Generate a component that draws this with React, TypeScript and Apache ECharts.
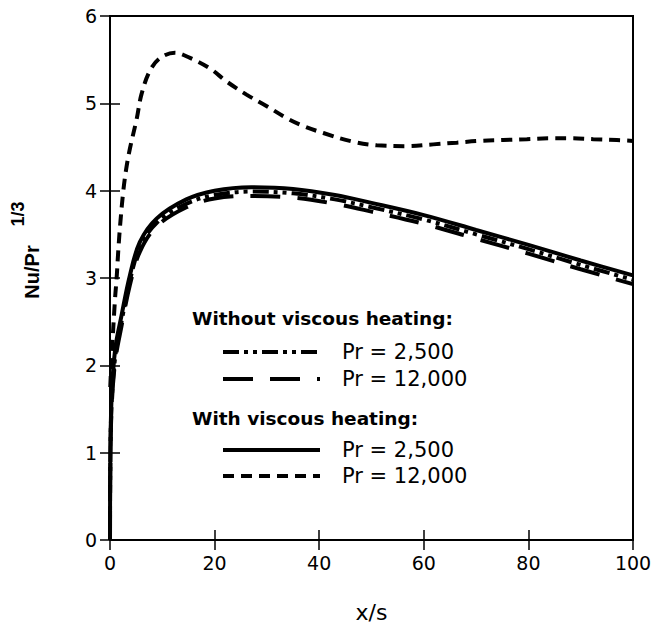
import React, { useEffect, useRef } from "react";
import * as echarts from "echarts";

// ---- data ----
const xTicks = [0, 20, 40, 60, 80, 100];
const yTicks = [0, 1, 2, 3, 4, 5, 6];

// With viscous heating, Pr = 12,000 (upper dashed curve)
const withHighX = [0.05, 0.3, 0.96, 1.27, 1.6, 2.0, 2.55, 3.1, 3.8, 5.1, 6.0, 7.6, 9.6, 12.4, 15.3, 19.1, 22.3, 26.1, 29.9, 33.8, 37, 40.8, 46.5, 51, 56.7, 61.8, 66.3, 70.7, 75.2, 79.7, 84.1, 88, 92.4, 96.9, 100];
const withHighY = [1.75, 2.08, 2.76, 3.0, 3.33, 3.65, 4.0, 4.25, 4.48, 4.82, 5.1, 5.37, 5.52, 5.58, 5.52, 5.4, 5.25, 5.1, 4.97, 4.83, 4.74, 4.66, 4.56, 4.52, 4.51, 4.53, 4.55, 4.57, 4.58, 4.59, 4.6, 4.6, 4.59, 4.58, 4.57];

// lower family shares x positions
const lowX = [0, 0.05, 0.3, 1.0, 2.2, 3.8, 5.7, 8.9, 14.6, 20, 27, 35, 43, 50, 60, 70, 80, 90, 100];
// With viscous heating, Pr = 2,500 (solid)
const withLowY = [0, 0.86, 1.62, 2.19, 2.57, 3.03, 3.41, 3.68, 3.9, 4.0, 4.04, 4.02, 3.95, 3.86, 3.72, 3.55, 3.38, 3.2, 3.03];
// Without viscous heating, Pr = 2,500 (dash-dot-dot)
const withoutLowY = [0, 0.8, 1.55, 2.1, 2.5, 2.97, 3.35, 3.63, 3.85, 3.95, 3.99, 3.97, 3.9, 3.81, 3.67, 3.5, 3.33, 3.15, 2.98];
// Without viscous heating, Pr = 12,000 (long dash)
const withoutHighY = [0, 0.75, 1.5, 2.05, 2.45, 2.92, 3.3, 3.59, 3.81, 3.91, 3.94, 3.92, 3.85, 3.76, 3.62, 3.45, 3.28, 3.1, 2.93];

const legendHeadings = ["Without viscous heating:", "With viscous heating:"];
const legendLabels = ["Pr = 2,500", "Pr = 12,000", "Pr = 2,500", "Pr = 12,000"];

const FONT = "DejaVu Sans";
const FONT2 = "Liberation Sans";

const pairs = (xs: number[], ys: number[]) => xs.map((x, i) => [x, ys[i]]);

const DASH_DOTDOT = [16, 5, 4, 5, 4, 5];
const LONG_DASH = [30, 17];
const SHORT_DASH = [11, 7];

export default function App() {
  const ref = useRef<HTMLDivElement>(null);
  useEffect(() => {
    if (!ref.current) return;
    const chart = echarts.init(ref.current, undefined, { renderer: "svg" });
    const axisCommon = {
      type: "value" as const,
      axisLine: { show: true, lineStyle: { color: "#000", width: 2 } },
      axisTick: { show: true, inside: true, length: 10, lineStyle: { color: "#000", width: 1.5 } },
      splitLine: { show: false },
    };
    const lineY = [352, 379, 450, 476];
    const dashes: (number[] | null)[] = [DASH_DOTDOT, LONG_DASH, null, SHORT_DASH];
    const graphics: any[] = [];
    graphics.push({ type: "text", x: 192, y: 318, style: { text: legendHeadings[0], fontFamily: FONT, fontSize: 18.5, fontWeight: "bold", fill: "#000", verticalAlign: "middle" } });
    graphics.push({ type: "text", x: 192, y: 418, style: { text: legendHeadings[1], fontFamily: FONT, fontSize: 18.5, fontWeight: "bold", fill: "#000", verticalAlign: "middle" } });
    lineY.forEach((y, i) => {
      graphics.push({
        type: "line",
        shape: { x1: 223, y1: y, x2: 320, y2: y },
        style: { stroke: "#000", lineWidth: 4, lineDash: dashes[i] || undefined },
      });
      graphics.push({ type: "text", x: 342, y, style: { text: legendLabels[i], fontFamily: FONT, fontSize: 21, fill: "#000", verticalAlign: "middle" } });
    });
    graphics.push({ type: "text", x: 32, y: 272, rotation: Math.PI / 2, style: { text: "Nu/Pr", fontFamily: FONT2, fontSize: 20, fontWeight: "bold", fill: "#000", align: "center", verticalAlign: "middle" } });
    graphics.push({ type: "text", x: 18, y: 214, rotation: Math.PI / 2, style: { text: "1/3", fontFamily: FONT2, fontSize: 18, fontWeight: "bold", fill: "#000", align: "center", verticalAlign: "middle" } });

    const mk = (name: string, data: number[][], type: any) => ({
      name,
      type: "line",
      data,
      smooth: 0.35,
      showSymbol: false,
      symbol: "none",
      clip: true,
      lineStyle: { color: "#000", width: 4, type },
    });

    chart.setOption({
      animation: false,
      backgroundColor: "#fff",
      grid: { left: 110, right: 23, top: 16, bottom: 86, show: true, borderColor: "#000", borderWidth: 2, backgroundColor: "transparent" },
      xAxis: [
        {
          ...axisCommon,
          min: xTicks[0],
          max: xTicks[xTicks.length - 1],
          interval: 20,
          position: "bottom",
          axisLabel: { show: true, color: "#000", fontFamily: FONT, fontSize: 19, margin: 13 },
          name: "x/s",
          nameLocation: "middle",
          nameGap: 61,
          nameTextStyle: { color: "#000", fontFamily: FONT, fontSize: 22 },
        },
        { ...axisCommon, min: 0, max: 100, interval: 20, position: "top", axisLabel: { show: false } },
      ],
      yAxis: [
        {
          ...axisCommon,
          min: yTicks[0],
          max: yTicks[yTicks.length - 1],
          interval: 1,
          position: "left",
          axisLabel: { show: true, color: "#000", fontFamily: FONT, fontSize: 19, margin: 13 },
        },
        { ...axisCommon, min: 0, max: 6, interval: 1, position: "right", axisLabel: { show: false } },
      ],
      series: [
        mk("Without viscous heating: Pr = 2,500", pairs(lowX, withoutLowY), DASH_DOTDOT),
        mk("Without viscous heating: Pr = 12,000", pairs(lowX, withoutHighY), LONG_DASH),
        mk("With viscous heating: Pr = 2,500", pairs(lowX, withLowY), "solid"),
        mk("With viscous heating: Pr = 12,000", pairs(withHighX, withHighY), SHORT_DASH),
      ],
      graphic: graphics,
    });
    return () => chart.dispose();
  }, []);
  return <div ref={ref} style={{ position: "fixed", left: 0, top: 0, width: 656, height: 628 }} />;
}
